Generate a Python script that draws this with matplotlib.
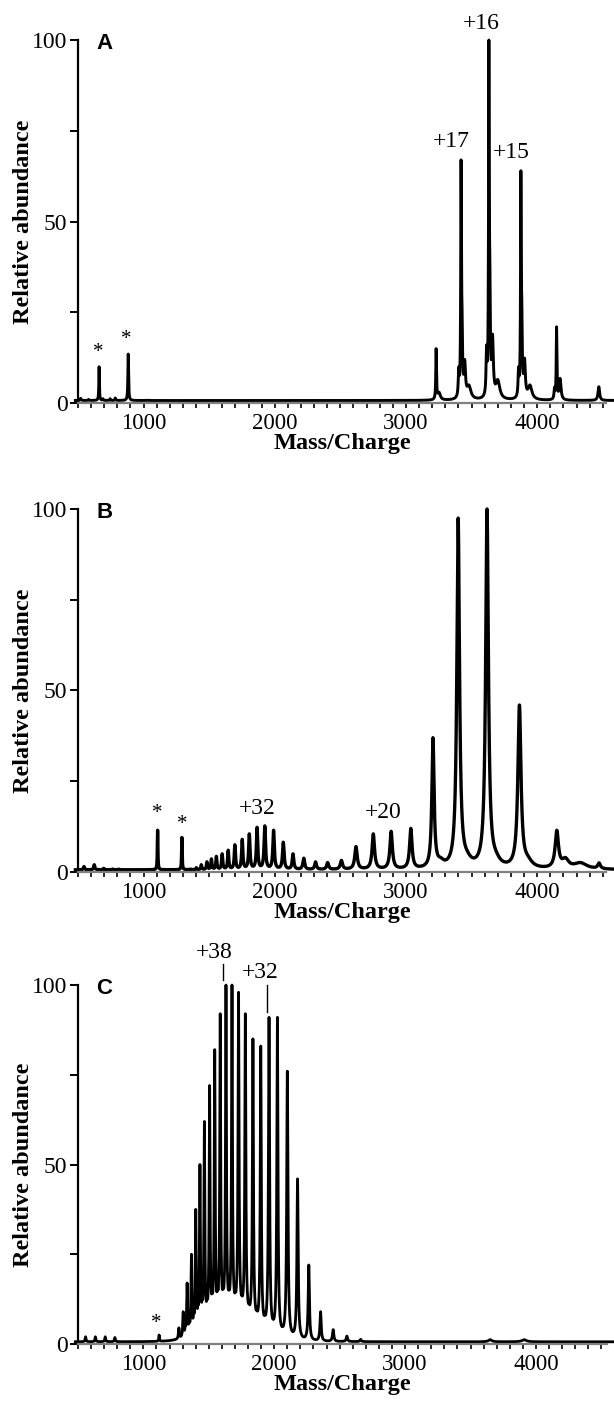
import numpy as np
import matplotlib.pyplot as plt
from matplotlib.ticker import MultipleLocator

plt.rcParams['font.family'] = ['Liberation Serif', 'DejaVu Serif']

# m/z grid for drawing the spectra
mz = np.arange(480, 4600, 0.5)

# ---- Panel A: peak apex position (m/z), apex height (%), half width (m/z)
a_pos = [520, 580, 661, 690, 745, 784, 883, 1030, 3055,
         3230, 3252,
         3402, 3420, 3427, 3448, 3480,
         3614, 3632, 3639, 3660, 3700,
         3858, 3876, 3883, 3904, 3945,
         4132, 4148, 4175, 4470]
a_height = [1.3, 1.0, 10, 1.2, 1.2, 1.4, 13.5, 0.8, 0.7,
            15, 3,
            10, 67, 28, 12, 5,
            16, 100, 42, 19, 6.5,
            10, 64, 29, 12.4, 5,
            4.4, 21, 6.8, 4.5]
a_width = [4, 4, 2.5, 3, 3, 3, 3, 5, 6,
           3, 12,
           4, 3, 4, 7, 18,
           4, 3, 4, 7, 18,
           4, 3, 4, 7, 18,
           4, 3, 8, 7]
a_base = 0.7

# ---- Panel B
b_pos = [546, 624, 696, 765, 810, 967, 1107, 1165, 1292,
         1356, 1402, 1440, 1483, 1517, 1555, 1599, 1645, 1696, 1752,
         1806, 1865, 1924, 1991, 2065, 2139, 2221, 2311, 2403, 2508,
         2619, 2751, 2887, 3037, 3206, 3265, 3398, 3465, 3618, 3685,
         3865, 3930, 4150, 4215, 4330, 4472]
b_height = [1.5, 2, 1, 0.8, 0.8, 0.6, 11.5, 0.6, 9.5,
            0.8, 1.2, 2, 2.8, 3.6, 4.3, 5, 6, 7.5, 9,
            10.5, 12.3, 12.7, 11.5, 8.2, 5, 3.8, 2.8, 2.6, 3.2,
            7, 10.5, 11.2, 12, 37, 4, 97.5, 6, 100, 6,
            46, 4.5, 11.5, 4, 2.6, 2.5]
b_width = [5, 5, 5, 5, 5, 5, 2.5, 4, 2.5,
           4, 4, 4, 4.5, 4.5, 4.5, 5, 5, 5.5, 5.5,
           6, 6, 6.5, 6.5, 7, 7, 8, 8, 9, 10,
           11, 11, 11, 11, 10, 30, 12, 40, 12.5, 40,
           14, 40, 15, 30, 60, 12]
b_base = 0.6

# ---- Panel C: main charge-state series, minor series, broad hump
c_pos = [558, 633, 708, 782, 1120,
         1271, 1304, 1334, 1367, 1400, 1432, 1466, 1506, 1545, 1587,
         1631, 1677, 1727, 1779, 1837, 1897, 1960, 2024, 2100, 2178,
         2264, 2354, 2450, 2555, 2660, 3650, 3910]
c_height = [2, 2, 2, 1.8, 2.5,
            4.5, 9, 17, 25, 37.5, 50, 62, 72, 82, 92,
            100, 100, 98, 92, 85, 83, 91, 91, 76, 46,
            22, 9, 4, 2.2, 1.3, 1.2, 1.2]
c_width = [4, 4, 4, 4, 3,
           4, 4, 4, 4, 4, 4, 4, 4, 4, 4,
           4, 4, 4.5, 4.5, 4.5, 4.5, 5, 5, 5.5, 5.5,
           5.5, 5.5, 6, 6, 6, 15, 20]
c2_pos = [1320, 1350, 1384, 1416, 1449, 1486, 1525, 1566, 1609,
          1654, 1702, 1753, 1808, 1867, 1928, 1992, 2062, 2139]
c2_height = [6, 8, 10, 12, 14, 15, 16, 17, 17,
             16, 15, 14, 12, 10.5, 9, 7, 5, 3]
c2_width = [2.5] * 18
c_base = 0.6
c_hump = (1670, 7.0, 175)   # centre, height, sigma

# ---- annotations
a_notes = [('+17', 3349, 72), ('+16', 3571, 104.5), ('+15', 3805, 69)]
a_stars = [(655, 14), (865, 17.5)]
b_notes = [('+32', 1864, 17.5), ('+20', 2826, 16.5)]
b_stars = [(1105, 16), (1292, 13)]
c_notes = [('+38', 1542, 109), ('+32', 1894, 103.5)]
c_marks = [(1611, 101.5, 106), (1942, 92.5, 100)]
c_stars = [(1099, 5.7)]


def spectrum(pos, hgt, wid, background):
    pos = np.asarray(pos, float)
    wid = np.asarray(wid, float)

    def shape(x):
        return 1.0 / (1.0 + ((x[:, None] - pos[None, :]) / wid[None, :]) ** 2)

    # amplitudes chosen so that the curve passes through the read apex heights
    amp = np.linalg.solve(shape(pos), np.asarray(hgt, float) - background(pos))
    amp = np.clip(amp, 0, None)
    return background(mz) + shape(mz) @ amp


spec_a = spectrum(a_pos, a_height, a_width, lambda x: np.full_like(x, a_base))
spec_b = spectrum(b_pos, b_height, b_width, lambda x: np.full_like(x, b_base))


def c_background(x):
    return c_base + c_hump[1] * np.exp(-0.5 * ((x - c_hump[0]) / c_hump[2]) ** 2)


spec_c = spectrum(c_pos + c2_pos, c_height + c2_height, c_width + c2_width, c_background)

fig = plt.figure(figsize=(6.14, 14.01), dpi=100)
boxes = [(0.127, 0.7123, 0.860, 0.2591),
         (0.127, 0.3776, 0.860, 0.2591),
         (0.127, 0.0407, 0.862, 0.2562)]
specs = [spec_a, spec_b, spec_c]
letters = ['A', 'B', 'C']
xlims = [(500, 4525), (500, 4525), (500, 4545)]
widths = [2.1, 2.4, 2.0]

axes = []
for box, spec, letter, xl, lw in zip(boxes, specs, letters, xlims, widths):
    ax = fig.add_axes(box)
    ax.plot(mz, spec, color='black', lw=lw, clip_on=False, solid_joinstyle='round')
    ax.set_xlim(*xl)
    ax.set_ylim(0, 100)
    for s in ['top', 'right']:
        ax.spines[s].set_visible(False)
    ax.spines['left'].set_linewidth(1.6)
    ax.spines['bottom'].set_linewidth(1.6)
    ax.spines['bottom'].set_color('#808080')
    ax.set_xticks([1000, 2000, 3000, 4000])
    ax.xaxis.set_minor_locator(MultipleLocator(100))
    ax.set_yticks([0, 50, 100])
    ax.yaxis.set_minor_locator(MultipleLocator(25))
    ax.tick_params(axis='x', which='both', direction='out', length=3.5, width=1.2,
                   labelsize=16.5, pad=4)
    ax.tick_params(axis='y', which='both', direction='out', length=5.5, width=1.4,
                   labelsize=17, pad=2)
    ax.set_xlabel('Mass/Charge', fontsize=17.5, fontweight='bold', labelpad=-1)
    ax.set_ylabel('Relative abundance', fontsize=17.5, fontweight='bold')
    ax.yaxis.set_label_coords(-0.083, 0.5)
    ax.text(0.05, 0.99, letter, transform=ax.transAxes, ha='center', va='center',
            fontsize=16, fontweight='bold', family=['Liberation Sans', 'DejaVu Sans'])
    axes.append(ax)

for ax, notes in zip(axes, [a_notes, b_notes, c_notes]):
    for txt, x, y in notes:
        ax.text(x, y, txt, ha='center', va='center', fontsize=17, clip_on=False)

for ax, stars in zip(axes, [a_stars, b_stars, c_stars]):
    for x, y in stars:
        ax.text(x, y, '*', ha='center', va='center', fontsize=15, clip_on=False)

for x, y0, y1 in c_marks:
    axes[2].plot([x, x], [y0, y1], color='black', lw=1.0, clip_on=False)

fig.savefig('out.png', dpi=100, facecolor='white')
